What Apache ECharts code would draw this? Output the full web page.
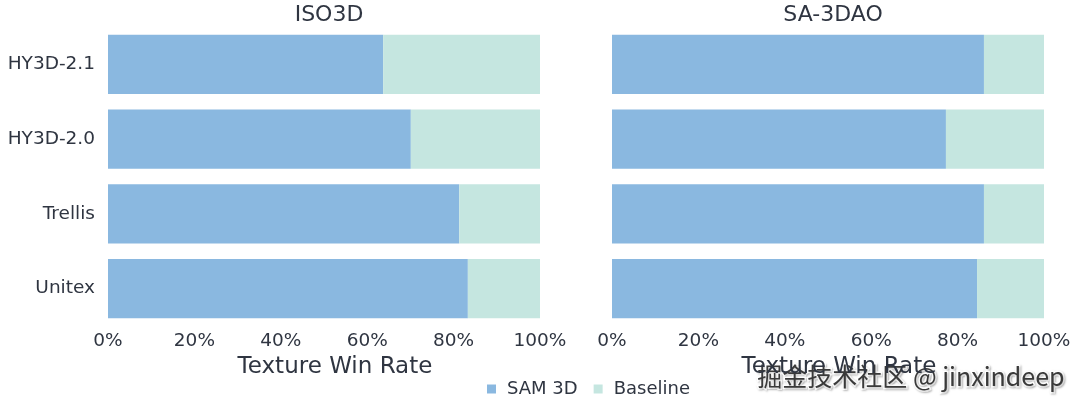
<!DOCTYPE html>
<html>
<head>
<meta charset="utf-8">
<script src="https://cdn.jsdelivr.net/npm/echarts@6/dist/echarts.min.js"></script>
<style>
  html, body { margin: 0; padding: 0; background: #fff; }
  #chart { width: 1080px; height: 405px; }
</style>
</head>
<body>
<div id="chart"></div>
<script>
    // 数据
    var methods = ['HY3D-2.1', 'HY3D-2.0', 'Trellis', 'Unitex'];
    var panelTitles = ['ISO3D', 'SA-3DAO'];
    var iso3dSam = [63.7, 70.1, 81.3, 83.3];
    var iso3dBase = [36.3, 29.9, 18.7, 16.7];
    var sa3daoSam = [86.1, 77.3, 86.1, 84.5];
    var sa3daoBase = [13.9, 22.7, 13.9, 15.5];
    var xTicks = [0, 20, 40, 60, 80, 100];

    var textColor = '#2f3541';
    var font = 'DejaVu Sans';
    var samColor = '#8ab8e0';
    var baseColor = '#c5e6e0';

    var chart = echarts.init(document.getElementById('chart'));

    function xAxisFor(idx) {
        return {
            type: 'value', gridIndex: idx, min: xTicks[0], max: xTicks[xTicks.length - 1], interval: 20,
            axisLine: {show: false}, axisTick: {show: false}, splitLine: {show: false},
            axisLabel: {
                color: textColor, fontFamily: font, fontSize: 18.5, margin: 6,
                formatter: function (v) { return v + '%'; }
            },
            name: 'Texture Win Rate', nameLocation: 'middle', nameGap: 30,
            nameTextStyle: {color: textColor, fontFamily: font, fontSize: 23, padding: [0, 0, 0, 22]}
        };
    }

    function yAxisFor(idx, showLabel) {
        return {
            type: 'category', gridIndex: idx, data: methods, inverse: true,
            axisLine: {show: false}, axisTick: {show: false}, splitLine: {show: false},
            axisLabel: {show: showLabel, color: textColor, fontFamily: font, fontSize: 18.5, margin: 13}
        };
    }

    function barSeries(name, data, color, idx) {
        return {
            name: name, type: 'bar', stack: 'p' + idx, xAxisIndex: idx, yAxisIndex: idx,
            data: data, barCategoryGap: '21%', itemStyle: {color: color}, silent: true
        };
    }

    var option = {
        backgroundColor: '#fff',
        animation: false,
        title: [
            {text: panelTitles[0], left: 324, top: -1, textAlign: 'center',
                textStyle: {color: textColor, fontFamily: font, fontSize: 22, fontWeight: 'normal'}},
            {text: panelTitles[1], left: 828, top: -1, textAlign: 'center',
                textStyle: {color: textColor, fontFamily: font, fontSize: 22, fontWeight: 'normal'}}
        ],
        legend: {
            left: 482, top: 375, icon: 'rect', itemWidth: 9, itemHeight: 9, itemGap: 16,
            textStyle: {color: textColor, fontFamily: font, fontSize: 18, padding: [0, 0, 0, 6]},
            data: ['SAM 3D', 'Baseline']
        },
        grid: [
            {left: 108, width: 432, top: 27, height: 299},
            {left: 612, width: 432, top: 27, height: 299}
        ],
        xAxis: [xAxisFor(0), xAxisFor(1)],
        yAxis: [yAxisFor(0, true), yAxisFor(1, false)],
        series: [
            barSeries('SAM 3D', iso3dSam, samColor, 0),
            barSeries('Baseline', iso3dBase, baseColor, 0),
            barSeries('SAM 3D', sa3daoSam, samColor, 1),
            barSeries('Baseline', sa3daoBase, baseColor, 1)
        ],
        graphic: [{
            type: 'text', right: 14, top: 362, silent: true,
            style: {
                text: '掘金技术社区 @ jinxindeep',
                fontFamily: 'Noto Sans CJK SC', fontSize: 25,
                fill: '#3a3a3a', stroke: '#ffffff', lineWidth: 3,
                textShadowColor: 'rgba(0,0,0,0.25)', textShadowBlur: 2, textShadowOffsetX: 1, textShadowOffsetY: 1
            }
        }]
    };

    chart.setOption(option);
</script>
</body>
</html>
